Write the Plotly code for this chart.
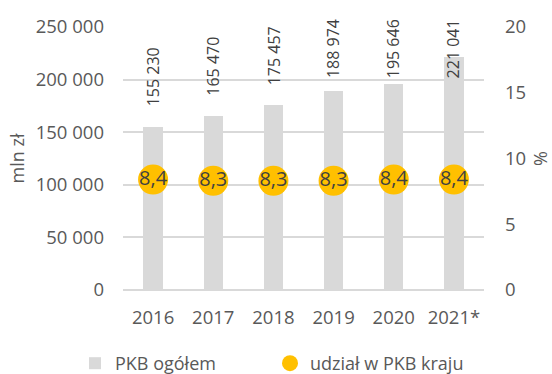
import plotly.graph_objects as go

# Regional GDP (mln zł) and its share in the national GDP (%)
years = ["2016", "2017", "2018", "2019", "2020", "2021*"]
pkb_ogolem = [155230, 165470, 175457, 188974, 195646, 221041]
udzial_pkb = [8.4, 8.3, 8.3, 8.3, 8.4, 8.4]

left_ticks = [0, 50000, 100000, 150000, 200000, 250000]
right_ticks = [0, 5, 10, 15, 20]

W, H = 552, 374
M_L, M_R, M_T, M_B = 123, 68, 27, 84
plot_w = W - M_L - M_R
plot_h = H - M_T - M_B
Y1_MAX, Y2_MAX = 250000, 20

GRAY_BAR = "#D9D9D9"
GOLD = "#FFC000"
TICK = "#595959"
LABEL = "#404040"
FONT = "Open Sans"

fig = go.Figure()

fig.add_trace(go.Bar(
    x=years, y=pkb_ogolem, name="PKB ogółem",
    marker=dict(color=GRAY_BAR, line=dict(width=0)),
    width=0.32, yaxis="y",
))

fig.add_trace(go.Scatter(
    x=years, y=udzial_pkb, name="udział w PKB kraju",
    mode="markers", yaxis="y2",
    marker=dict(color=GOLD, size=30, line=dict(width=0)),
))

fig.add_trace(go.Scatter(
    x=years, y=udzial_pkb, mode="text", yaxis="y2", showlegend=False,
    text=[f"{v:.1f}".replace(".", ",") for v in udzial_pkb],
    textfont=dict(family=FONT, size=20, color=LABEL),
    textposition="middle center", hoverinfo="skip",
))

# Value labels above bars, rotated; kept inside the figure when too tall
gap_px, label_len_px, top_limit_px = 18, 60, 17
annotations = []
for i, v in enumerate(pkb_ogolem):
    txt = f"{v:,}".replace(",", " ")
    bar_top_px = M_T + plot_h * (1 - v / Y1_MAX)
    if bar_top_px - gap_px - label_len_px >= top_limit_px:
        annotations.append(dict(
            x=i, y=v, xref="x", yref="y", text=txt, textangle=-90,
            showarrow=False, yanchor="bottom", yshift=gap_px,
            font=dict(family=FONT, size=16, color=LABEL),
        ))
    else:
        annotations.append(dict(
            x=i, y=1 + (M_T - top_limit_px) / plot_h, xref="x", yref="paper",
            text=txt, textangle=-90, showarrow=False, yanchor="top",
            font=dict(family=FONT, size=16, color=LABEL),
        ))

legend_left_px, legend_mid_px = 75, 363.5

fig.update_layout(
    width=W, height=H,
    margin=dict(l=M_L, r=M_R, t=M_T, b=M_B, pad=0, autoexpand=False),
    paper_bgcolor="white", plot_bgcolor="white",
    separators=", ",
    font=dict(family=FONT, size=18, color=TICK),
    bargap=0,
    showlegend=True,
    legend=dict(
        orientation="h",
        x=(legend_left_px - M_L) / plot_w, xanchor="left",
        y=(M_T + plot_h - legend_mid_px) / plot_h, yanchor="middle",
        font=dict(family=FONT, size=18, color=TICK),
        entrywidth=150, entrywidthmode="pixels",
        itemsizing="trace", bgcolor="rgba(0,0,0,0)",
    ),
    xaxis=dict(
        type="category", range=[-0.5, len(years) - 0.5],
        showgrid=False, showline=False, ticks="", automargin=False,
        tickfont=dict(family=FONT, size=18.5, color=TICK),
        ticklabelstandoff=14,
    ),
    yaxis=dict(
        range=[0, Y1_MAX], tickvals=left_ticks, tickformat=",d",
        showgrid=True, gridcolor=GRAY_BAR, gridwidth=1.5,
        zeroline=True, zerolinecolor=GRAY_BAR, zerolinewidth=1.5,
        showline=False, ticks="", automargin=False,
        tickfont=dict(family=FONT, size=18.5, color=TICK),
        ticklabelstandoff=18,
        title=dict(text="mln zł", font=dict(family=FONT, size=18, color=TICK),
                   standoff=6),
    ),
    yaxis2=dict(
        range=[0, Y2_MAX], tickvals=right_ticks, overlaying="y", side="right",
        showgrid=False, zeroline=False, showline=False, ticks="", automargin=False,
        tickfont=dict(family=FONT, size=18.5, color=TICK),
        ticklabelstandoff=20,
        title=dict(text="%", font=dict(family=FONT, size=18, color=TICK),
                   standoff=20),
    ),
    annotations=annotations,
)

fig.write_html("out.html")
